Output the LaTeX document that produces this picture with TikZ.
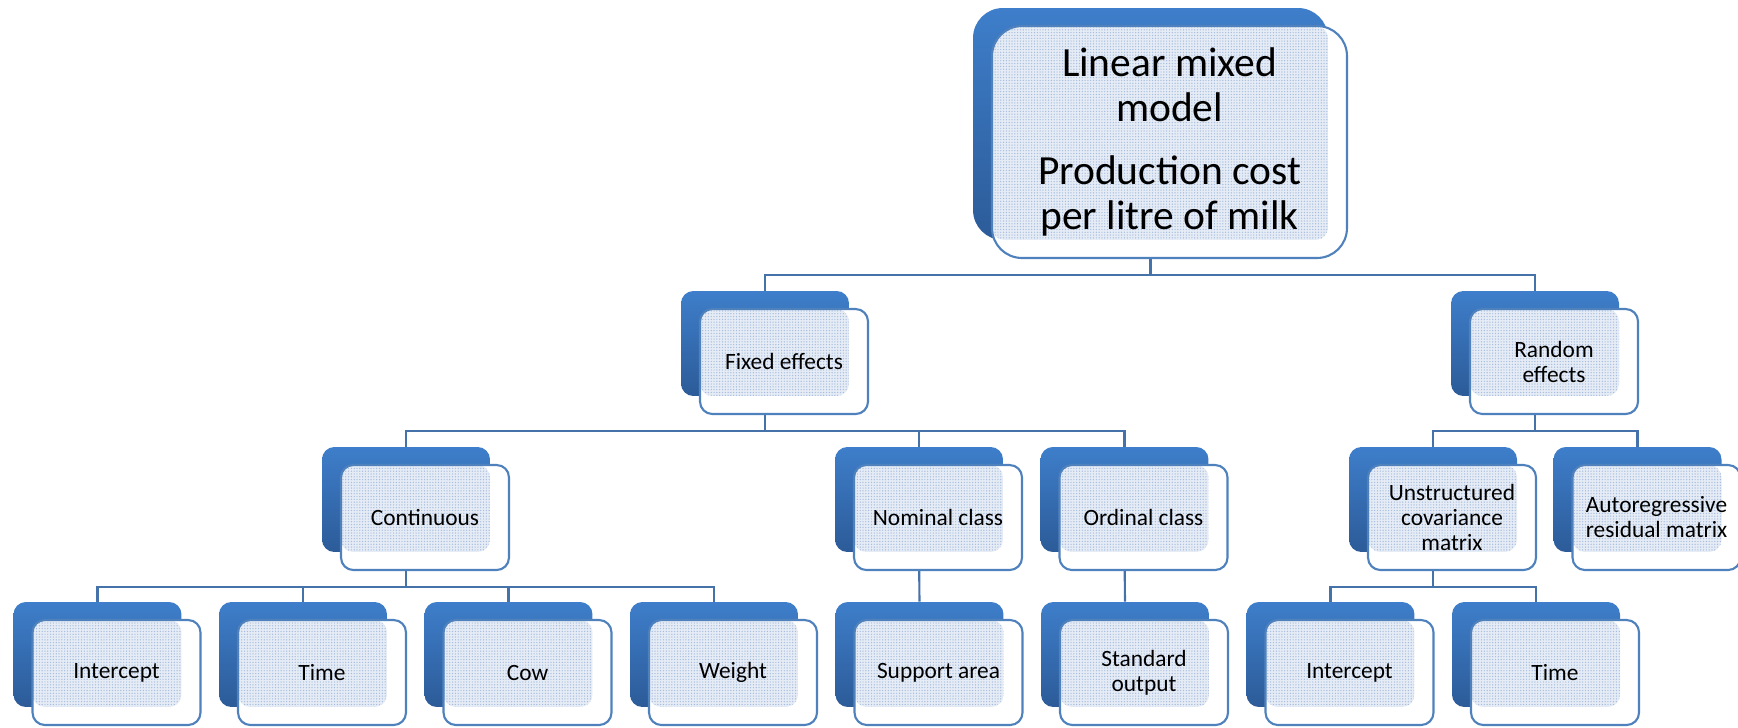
\documentclass[tikz,border=0pt]{standalone}
\usepackage{fontspec}
\setmainfont{Carlito}
\usepackage{tikz}
\usetikzlibrary{backgrounds,patterns.meta}

\definecolor{backtop}{RGB}{62,126,202}
\definecolor{backbot}{RGB}{44,91,152}
\definecolor{boxline}{RGB}{79,129,189}
\definecolor{linkblue}{RGB}{70,114,170}
\definecolor{dotbase}{RGB}{230,236,245}
\definecolor{dotblue}{RGB}{165,188,222}

\tikzset{
  backbox/.style={rounded corners=7pt, top color=backtop, bottom color=backbot,
    minimum width=3.36cm, minimum height=2.1cm, inner sep=0pt},
  dotfill/.style={rounded corners=7pt, preaction={fill=dotbase},
    pattern={Dots[distance=1.6pt, radius=0.4pt]}, pattern color=dotblue},
  frontbox/.style={draw=boxline, line width=1.2pt, fill=white, rounded corners=7pt,
    minimum width=3.36cm, minimum height=2.1cm, inner sep=0pt, align=center,
    font=\fontsize{13.3pt}{14.2pt}\selectfont,
    path picture={\fill[dotfill] (path picture bounding box.north west)
      rectangle ([shift={(-19,-18)}]path picture bounding box.south east);}},
  link/.style={draw=linkblue, line width=1.2pt}
}

\begin{document}
\begin{tikzpicture}[x=0.02cm, y=-0.02cm]
            \useasboundingbox (0,0) rectangle (1738,727);

            % top
            \node[backbox, rounded corners=17pt, minimum width=7.1cm, minimum height=4.64cm] (lmmb) at (1150.5,124) {};
            \node[frontbox, rounded corners=17pt, minimum width=7.1cm, minimum height=4.64cm,
              font=\fontsize{23.6pt}{25.5pt}\selectfont] (lmm) at ([shift={(19,18)}]lmmb)
              {Linear mixed\\model\\[0.38cm]Production cost\\per litre of milk};

            % first level
            \node[backbox] (fixb) at (765,343.5) {};
            \node[frontbox] (fix) at ([shift={(19,18)}]fixb) {Fixed effects};
            \node[backbox] (randb) at (1535,343.5) {};
            \node[frontbox] (rand) at ([shift={(19,18)}]randb) {Random\\effects};

            % second level
            \node[backbox] (contb) at (406,499.5) {};
            \node[frontbox] (cont) at ([shift={(19,18)}]contb) {Continuous};
            \node[backbox] (nomb) at (919,499.5) {};
            \node[frontbox] (nom) at ([shift={(19,18)}]nomb) {Nominal class};
            \node[backbox] (ordb) at (1124.5,499.5) {};
            \node[frontbox] (ord) at ([shift={(19,18)}]ordb) {Ordinal class};
            \node[backbox] (unstb) at (1433,499.5) {};
            \node[frontbox] (unst) at ([shift={(19,18)}]unstb) {Unstructured\\covariance\\matrix};
            \node[backbox] (autob) at (1637.5,499.5) {};
            \node[frontbox] (auto) at ([shift={(19,18)}]autob) {Autoregressive\\residual matrix};

            % leaves
            \node[backbox] (cintb) at (97.5,654.5) {};
            \node[frontbox] (cint) at ([shift={(19,18)}]cintb) {Intercept};
            \node[backbox] (timeb) at (303,654.5) {};
            \node[frontbox] (time) at ([shift={(19,18)}]timeb) {Time};
            \node[backbox] (cowb) at (508.5,654.5) {};
            \node[frontbox] (cow) at ([shift={(19,18)}]cowb) {Cow};
            \node[backbox] (weightb) at (714,654.5) {};
            \node[frontbox] (weight) at ([shift={(19,18)}]weightb) {Weight};
            \node[backbox] (areab) at (919.5,654.5) {};
            \node[frontbox] (area) at ([shift={(19,18)}]areab) {Support area};
            \node[backbox] (outputb) at (1125,654.5) {};
            \node[frontbox] (output) at ([shift={(19,18)}]outputb) {Standard\\output};
            \node[backbox] (rintb) at (1330.5,654.5) {};
            \node[frontbox] (rint) at ([shift={(19,18)}]rintb) {Intercept};
            \node[backbox] (rtimeb) at (1536,654.5) {};
            \node[frontbox] (rtime) at ([shift={(19,18)}]rtimeb) {Time};

            % connectors
            \coordinate (bus1) at (0,275);
            \coordinate (bus2) at (0,431);
            \coordinate (bus3) at (0,587);
            \begin{scope}[on background layer]
              \draw[link] (lmmb.south) -- (lmmb.south |- bus1) -| (fixb.north);
              \draw[link] (lmmb.south |- bus1) -| (randb.north);
              \draw[link] (fixb.south) -- (fixb.south |- bus2) -| (contb.north);
              \draw[link] (fixb.south |- bus2) -| (nomb.north);
              \draw[link] (fixb.south |- bus2) -| (ordb.north);
              \draw[link] (randb.south) -- (randb.south |- bus2) -| (unstb.north);
              \draw[link] (randb.south |- bus2) -| (autob.north);
              \draw[link] (contb.south) -- (contb.south |- bus3) -| (cintb.north);
              \draw[link] (contb.south |- bus3) -| (timeb.north);
              \draw[link] (contb.south |- bus3) -| (cowb.north);
              \draw[link] (contb.south |- bus3) -| (weightb.north);
              \draw[link] (nomb.south) -- (areab.north);
              \draw[link] (ordb.south) -- (outputb.north);
              \draw[link] (unstb.south) -- (unstb.south |- bus3) -| (rintb.north);
              \draw[link] (unstb.south |- bus3) -| (rtimeb.north);
            \end{scope}
        \end{tikzpicture}
\end{document}
